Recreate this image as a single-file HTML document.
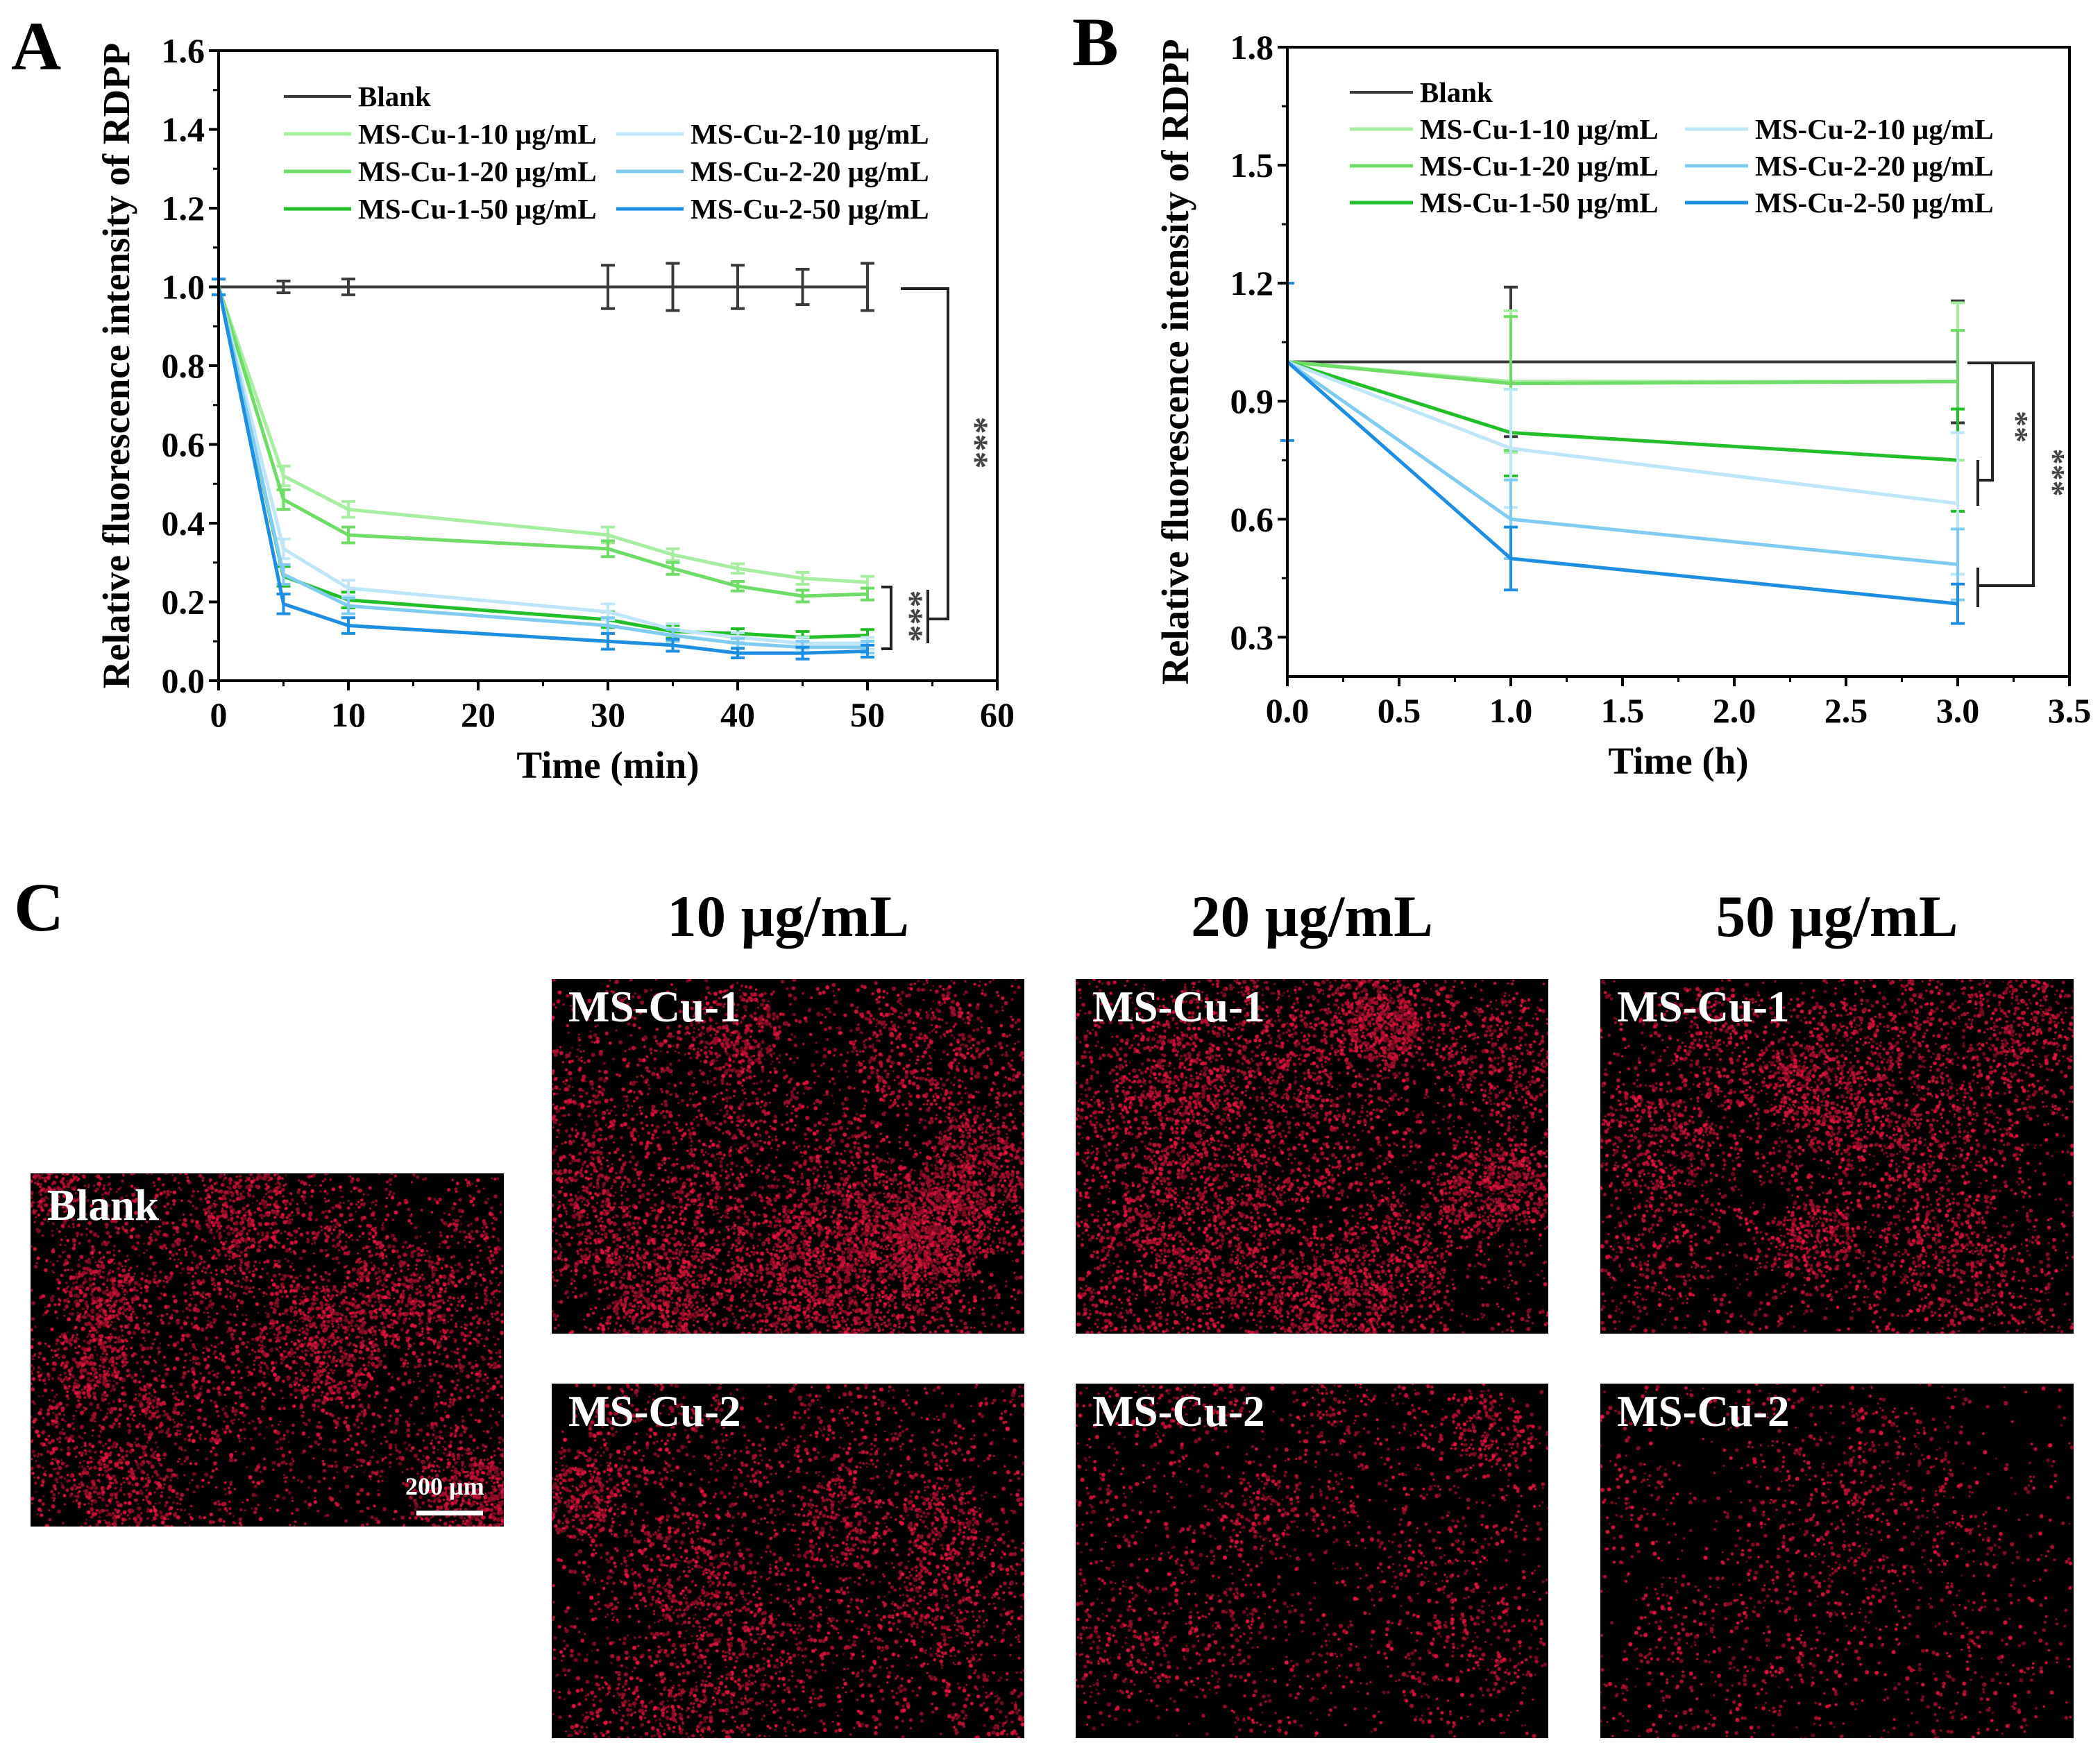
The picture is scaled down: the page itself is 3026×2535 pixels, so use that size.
<!DOCTYPE html>
<html><head><meta charset="utf-8">
<style>
html,body{margin:0;padding:0;background:#fff;}
#root{position:relative;width:3026px;height:2535px;overflow:hidden;font-family:"Liberation Serif",serif;}
svg text{font-family:"Liberation Serif",serif;font-weight:bold;}
.pl{position:absolute;font-weight:bold;color:#000;}
.img{position:absolute;background:#000;}
.img canvas{position:absolute;left:0;top:0;}
.lab{position:absolute;left:24px;top:4px;color:#fff;font-weight:bold;font-size:63px;}
</style></head><body>
<div id="root">
<svg id="chart" width="3026" height="1250" style="position:absolute;left:0;top:0"></svg>

<div class="pl" style="left:20px;top:1250px;font-size:100px">C</div>
<div class="pl" style="left:795px;width:681px;text-align:center;top:1272px;font-size:85px">10 µg/mL</div>
<div class="pl" style="left:1550px;width:681px;text-align:center;top:1272px;font-size:85px">20 µg/mL</div>
<div class="pl" style="left:2306px;width:682px;text-align:center;top:1272px;font-size:85px">50 µg/mL</div>

<div class="img" style="left:44px;top:1691px;width:682px;height:509px"><canvas width="682" height="509" data-d="0.9"></canvas><div class="lab" style="top:10px">Blank</div>
<div style="position:absolute;left:540px;top:430px;color:#fff;font-weight:bold;font-size:36px">200 µm</div>
<div style="position:absolute;left:556px;top:486px;width:96px;height:7px;background:#fff"></div></div>

<div class="img" style="left:795px;top:1411px;width:681px;height:511px"><canvas width="681" height="511" data-d="1.1"></canvas><div class="lab">MS-Cu-1</div></div>
<div class="img" style="left:1550px;top:1411px;width:681px;height:511px"><canvas width="681" height="511" data-d="1.0"></canvas><div class="lab">MS-Cu-1</div></div>
<div class="img" style="left:2306px;top:1411px;width:682px;height:511px"><canvas width="682" height="511" data-d="0.75"></canvas><div class="lab">MS-Cu-1</div></div>
<div class="img" style="left:795px;top:1994px;width:681px;height:511px"><canvas width="681" height="511" data-d="0.6"></canvas><div class="lab">MS-Cu-2</div></div>
<div class="img" style="left:1550px;top:1994px;width:681px;height:511px"><canvas width="681" height="511" data-d="0.35"></canvas><div class="lab">MS-Cu-2</div></div>
<div class="img" style="left:2306px;top:1994px;width:682px;height:511px"><canvas width="682" height="511" data-d="0.25"></canvas><div class="lab">MS-Cu-2</div></div>
</div>
<script>
// ---- Panel A data ----
const timeA = [0,5,10,30,35,40,45,50];
const blankA = [1,1,1,1,1,1,1,1];
const blankAErr = [0.02,0.015,0.02,0.055,0.06,0.055,0.045,0.06];
const cu1_10A = [1,0.52,0.435,0.37,0.32,0.285,0.26,0.25];
const cu1_20A = [1,0.46,0.37,0.335,0.285,0.24,0.215,0.22];
const cu1_50A = [1,0.265,0.205,0.155,0.125,0.12,0.11,0.115];
const cu2_10A = [1,0.335,0.235,0.175,0.13,0.11,0.095,0.095];
const cu2_20A = [1,0.27,0.19,0.14,0.115,0.095,0.085,0.085];
const cu2_50A = [1,0.195,0.14,0.1,0.09,0.07,0.07,0.075];
const errA = [0.02,0.025,0.02,0.02,0.015,0.012,0.015,0.015];
const xTicksA = [0,10,20,30,40,50,60];
const yTicksA = ["0.0","0.2","0.4","0.6","0.8","1.0","1.2","1.4","1.6"];
// ---- Panel B data ----
const timeB = [0,1,3];
const blankB = [1,1,1];
const blankBErr = [0,0.19,0.155];
const cu1_10B = [1,0.95,0.95];
const cu1_10BErr = [0,0.18,0.2];
const cu1_20B = [1,0.945,0.95];
const cu1_20BErr = [0,0.17,0.13];
const cu1_50B = [1,0.82,0.75];
const cu1_50BErr = [0,0.11,0.13];
const cu2_10B = [1,0.78,0.64];
const cu2_10BErr = [0,0.15,0.18];
const cu2_20B = [1,0.6,0.485];
const cu2_20BErr = [0,0.1,0.09];
const cu2_50B = [1,0.5,0.385];
const cu2_50BErr = [0.2,0.08,0.05];
const xTicksB = ["0.0","0.5","1.0","1.5","2.0","2.5","3.0","3.5"];
const yTicksB = ["0.3","0.6","0.9","1.2","1.5","1.8"];
const seriesNames = ["Blank","MS-Cu-1-10 µg/mL","MS-Cu-1-20 µg/mL","MS-Cu-1-50 µg/mL","MS-Cu-2-10 µg/mL","MS-Cu-2-20 µg/mL","MS-Cu-2-50 µg/mL"];

const colors = ["#3a3a3a","#a8eea2","#6edc66","#22bf2a","#bfe6f6","#80ccf0","#1e8fe0"];
const NS="http://www.w3.org/2000/svg";
const svg=document.getElementById('chart');
function mk(tag,attrs,parent){const e=document.createElementNS(NS,tag);for(const k in attrs)e.setAttribute(k,attrs[k]);(parent||svg).appendChild(e);return e;}

function drawChart(c){
  const g=mk('g',{});
  
  
  const X=v=>c.L+(v-c.x0)/(c.x1-c.x0)*(c.R-c.L);
  const Y=v=>c.B-(v-c.y0)/(c.y1-c.y0)*(c.B-c.T);
  c.series.forEach((s,i)=>{
    const sg=mk('g',{},g);
    
    
    s.err.forEach((e,j)=>{ if(!e) return;
      const x=X(c.xs[j]),y1=Y(s.vals[j]-e),y2=Y(s.vals[j]+e);
      const eb=mk('path',{d:`M${x},${y1}V${y2}M${x-10},${y1}h20M${x-10},${y2}h20`,stroke:colors[i],'stroke-width':4,fill:'none'},sg);
      
      
    });
    const pts=s.vals.map((v,j)=>X(c.xs[j])+','+Y(v)).join(' ');
    const pl=mk('polyline',{points:pts,fill:'none',stroke:colors[i],'stroke-width':i==0?4:5,'stroke-linejoin':'round'},sg);
    
    
  });
  const fr=mk('rect',{x:c.L,y:c.T,width:c.R-c.L,height:c.B-c.T,fill:'none',stroke:'#000','stroke-width':4},g);
  
  
  c.xt.forEach((t,k)=>{const v=parseFloat(t),x=X(v);
    mk('line',{x1:x,x2:x,y1:c.B,y2:c.B+14,stroke:'#000','stroke-width':4},g);
    if(k<c.xt.length-1){const xm=X(v+c.xstep/2);mk('line',{x1:xm,x2:xm,y1:c.B,y2:c.B+8,stroke:'#000','stroke-width':3},g);}
    const tx=mk('text',{x:x,y:c.B+66,'text-anchor':'middle','font-size':50},g);tx.textContent=t;
    
    
  });
  c.yt.forEach((t,k)=>{const v=parseFloat(t),y=Y(v);
    mk('line',{x1:c.L-14,x2:c.L,y1:y,y2:y,stroke:'#000','stroke-width':4},g);
    const ym=Y(v-c.ystep/2); if(v-c.ystep/2>=c.y0) mk('line',{x1:c.L-8,x2:c.L,y1:ym,y2:ym,stroke:'#000','stroke-width':3},g);
    const tx=mk('text',{x:c.L-20,y:y+17,'text-anchor':'end','font-size':50},g);tx.textContent=t;
    
    
  });
  const xl=mk('text',{x:(c.L+c.R)/2,y:c.B+140,'text-anchor':'middle','font-size':55},g);xl.textContent=c.xtitle;
  
  
  const yl=mk('text',{x:0,y:0,'text-anchor':'middle','font-size':55,transform:`translate(${c.ytx},${(c.T+c.B)/2}) rotate(-90)`},g);yl.textContent='Relative fluorescence intensity of RDPP';
  
  
  const pl=mk('text',{x:c.plx,y:c.ply,'font-size':100},g);pl.textContent=c.panel;
  
  
  const lg=mk('g',{},g);
  
  
  const pos=[[0,0],[0,1],[0,2],[0,3],[1,1],[1,2],[1,3]];
  seriesNames.forEach((n,i)=>{const [col,row]=pos[i];const x=c.lg.x[col],y=c.lg.y0+row*c.lg.dy;
    const e=mk('g',{},lg);
    
    
    mk('line',{x1:x,x2:x+c.lg.w,y1:y,y2:y,stroke:colors[i],'stroke-width':i==0?4:5},e);
    const t=mk('text',{x:x+c.lg.w+10,y:y+14,'font-size':41},e);t.textContent=n;
  });
  return {X,Y,g};
}
const A=drawChart({name:'chart-a',panel:'A',plx:16,ply:100,L:315,R:1437,T:73,B:981,x0:0,x1:60,y0:0,y1:1.6,xstep:10,ystep:0.2,
  xt:xTicksA.map(String),yt:yTicksA,xs:timeA,xtitle:'Time (min)',ytx:186,
  lg:{x:[409,888],y0:139,dy:54,w:97},
  series:[{key:'blank',vals:blankA,err:blankAErr},{key:'cu1-10',vals:cu1_10A,err:errA},{key:'cu1-20',vals:cu1_20A,err:errA},{key:'cu1-50',vals:cu1_50A,err:errA},{key:'cu2-10',vals:cu2_10A,err:errA},{key:'cu2-20',vals:cu2_20A,err:errA},{key:'cu2-50',vals:cu2_50A,err:errA}]});
const B=drawChart({name:'chart-b',panel:'B',plx:1545,ply:94,L:1855,R:2982,T:68,B:975,x0:0,x1:3.5,y0:0.2,y1:1.8,xstep:0.5,ystep:0.3,
  xt:xTicksB,yt:yTicksB,xs:timeB,xtitle:'Time (h)',ytx:1712,
  lg:{x:[1945,2428],y0:133,dy:53,w:91},
  series:[{key:'blank',vals:blankB,err:blankBErr},{key:'cu1-10',vals:cu1_10B,err:cu1_10BErr},{key:'cu1-20',vals:cu1_20B,err:cu1_20BErr},{key:'cu1-50',vals:cu1_50B,err:cu1_50BErr},{key:'cu2-10',vals:cu2_10B,err:cu2_10BErr},{key:'cu2-20',vals:cu2_20B,err:cu2_20BErr},{key:'cu2-50',vals:cu2_50B,err:cu2_50BErr}]});
function br(d,parent,name){const p=mk('path',{d:d,stroke:'#222','stroke-width':4,fill:'none'},parent);}
function star(t,x,y,parent,fs){const s=mk('text',{x:0,y:0,'font-size':fs||50,fill:'#444','text-anchor':'middle',transform:`translate(${x},${y}) rotate(90)`},parent);s.textContent=t;}
br(`M1298,416H1366V892H1337M1337,850V927`,A.g,'bracket-blank');
br(`M1270,846H1284V935H1270`,A.g,'bracket-groups');
star('***',1390,638,A.g);
star('***',1296,888,A.g);
br(`M2835,523H2930V844H2850M2850,818V875`,B.g,'bracket-outer');
br(`M2835,523H2871V692H2850M2850,663V729`,B.g,'bracket-inner');
star('**',2891,615,B.g,46);
star('***',2944,681,B.g,46);

let seed=12345;function rnd(){seed=(seed*16807)%2147483647;return seed/2147483647;}
document.querySelectorAll('canvas').forEach(cv=>{
  const ctx=cv.getContext('2d');const w=cv.width,h=cv.height,d=parseFloat(cv.dataset.d);
  const cl=[];for(let i=0;i<22;i++)cl.push([rnd()*w,rnd()*h,50+rnd()*110]);
  const n=Math.round(7500*d);
  for(let i=0;i<n;i++){
    let x,y;
    if(rnd()<0.75){const c=cl[Math.floor(rnd()*cl.length)];const a=rnd()*6.283,r=Math.sqrt(rnd())*c[2];x=c[0]+Math.cos(a)*r;y=c[1]+Math.sin(a)*r;}
    else{x=rnd()*w;y=rnd()*h;}
    const b=0.45+rnd()*0.55;
    ctx.fillStyle=`rgba(${Math.round(230*b)},${Math.round(20*b)},${Math.round(65*b)},1)`;
    ctx.beginPath();ctx.arc(x,y,1.3+rnd()*1.8,0,6.283);ctx.fill();
  }
});
</script>
</body></html>
